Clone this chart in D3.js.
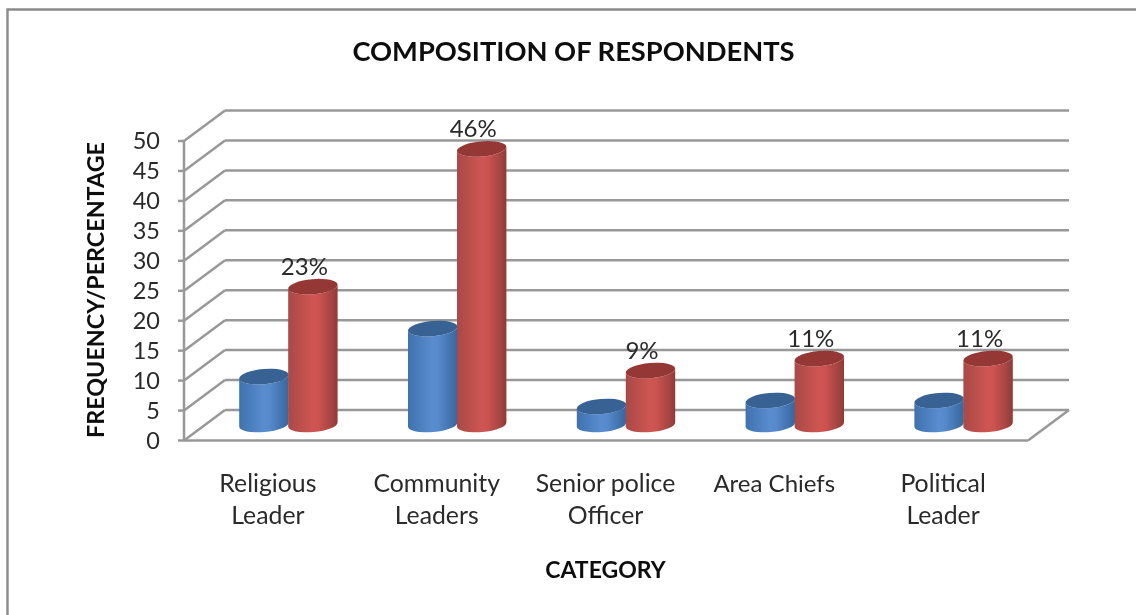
<!DOCTYPE html>
<html><head><meta charset="utf-8">
<script src="https://d3js.org/d3.v7.min.js"></script>
<style>html,body{margin:0;padding:0;background:#fff}svg{display:block}</style>
</head><body><svg id="c" width="1136" height="615"></svg>
<script>
const categories = [["Religious","Leader"],["Community","Leaders"],["Senior police","Officer"],["Area Chiefs"],["Political","Leader"]];
const frequency = [8,16,3,4,4];
const percentage = [23,46,9,11,11];
const percentLabels = ["23%","46%","9%","11%","11%"];
const yTicks = [0,5,10,15,20,25,30,35,40,45,50];
const titleText = "COMPOSITION OF RESPONDENTS";
const xTitle = "CATEGORY";
const yTitle = "FREQUENCY/PERCENTAGE";

const font = "Lato, sans-serif";
const svg = d3.select("#c");
const defs = svg.append("defs");
function grad(id, stops){
  const g = defs.append("linearGradient").attr("id",id);
  stops.forEach(s=>g.append("stop").attr("offset",s[0]).attr("stop-color",s[1]));
}
grad("gb",[[0,"#3f71ad"],[.5,"#5a8dd0"],[.62,"#5789cb"],[.9,"#3f6fa9"],[1,"#39669c"]]);
grad("gr",[[0,"#a84a47"],[.5,"#cf5552"],[.62,"#cb5350"],[.9,"#a04341"],[1,"#8f3a37"]]);
defs.append("filter").attr("id","soft").append("feGaussianBlur").attr("stdDeviation",0.7);
defs.append("filter").attr("id","softText").attr("x","-5%").attr("y","-5%").attr("width","110%").attr("height","110%").attr("filterUnits","objectBoundingBox").append("feGaussianBlur").attr("stdDeviation",0.4);

svg.append("path").attr("d","M7.5 615V9.5H1136").attr("fill","none").attr("stroke","#8a8a8a").attr("stroke-width",2.4);

const dx = 41, dy = -30.5;
const yFront = d3.scaleLinear().domain([0,50]).range([440.5,141]);
const xFront = d3.scaleBand().domain(d3.range(categories.length)).range([184,1028]);
const xBar = d3.scaleBand().domain(d3.range(categories.length)).range([204,1048]);
const side = d3.scaleBand().domain([0,1]).range([-49,49]);
const yBar = d3.scaleLinear().domain([0,50]).range([424.5,125]);

const marks = svg.append("g").attr("filter","url(#soft)");
const gridC = "#989898";
const grid = marks.append("g").attr("stroke",gridC).attr("stroke-width",2.5).attr("fill","none");
yTicks.forEach(t=>{
  const y = yFront(t);
  grid.append("line").attr("x1",184).attr("x2",184+dx).attr("y1",y).attr("y2",y+dy);
  grid.append("line").attr("x1",184+dx).attr("x2",1069).attr("y1",y+dy).attr("y2",y+dy);
  grid.append("line").attr("x1",178).attr("x2",184).attr("y1",y).attr("y2",y);
});
grid.append("line").attr("x1",184).attr("x2",184).attr("y1",yFront(50)).attr("y2",yFront(0));
grid.append("line").attr("x1",184).attr("x2",1028).attr("y1",yFront(0)).attr("y2",yFront(0));
grid.append("line").attr("x1",1028).attr("x2",1069).attr("y1",yFront(0)).attr("y2",yFront(0)+dy);

const rx = 24.8, ry = 7.6, rot = -5, th = rot*Math.PI/180;
const ox = rx*Math.cos(th), oy = rx*Math.sin(th);
function drawBar(g, cx, yTop, yBase, fill, cap){
  const p = `M${cx-ox} ${yBase-oy}A${rx} ${ry} ${rot} 0 0 ${cx+ox} ${yBase+oy}L${cx+ox} ${yTop+oy}A${rx} ${ry} ${rot} 0 1 ${cx-ox} ${yTop-oy}Z`;
  g.append("path").attr("d",p).attr("fill",`url(#${fill})`);
  g.append("ellipse").attr("cx",cx).attr("cy",yTop).attr("rx",rx).attr("ry",ry)
    .attr("transform",`rotate(${rot} ${cx} ${yTop})`).attr("fill",cap);
}
const bars = marks.append("g");
categories.forEach((c,i)=>{
  const center = xBar(i)+xBar.bandwidth()/2;
  const w = side.bandwidth();
  drawBar(bars, center+side(0)+w/2, yBar(frequency[i]), yBar(0), "gb", "#376293");
  drawBar(bars, center+side(1)+w/2, yBar(percentage[i]), yBar(0), "gr", "#953936");
});

const txt = svg.append("g").attr("font-family",font).attr("fill","#2a2a2a").attr("filter","url(#softText)");
txt.append("text").attr("x",573.5).attr("y",61).attr("text-anchor","middle").attr("font-size",27.3).attr("font-weight",700).attr("fill","#111").text(titleText);
txt.append("text").attr("x",605.5).attr("y",578).attr("text-anchor","middle").attr("font-size",23).attr("font-weight",700).attr("fill","#111").text(xTitle);
txt.append("text").attr("transform","translate(104,290) rotate(-90)").attr("text-anchor","middle").attr("font-size",23.3).attr("font-weight",700).attr("fill","#111").text(yTitle);
yTicks.forEach(t=>txt.append("text").attr("x",160).attr("y",yFront(t)+8).attr("text-anchor","end").attr("font-size",23.5).text(t));
categories.forEach((c,i)=>{
  const x = xFront(i)+xFront.bandwidth()/2;
  c.forEach((l,k)=>txt.append("text").attr("x",x-0.5).attr("y",492+k*32).attr("text-anchor","middle").attr("font-size",c.length==1?24:24.8).text(l));
  const cxr = xBar(i)+xBar.bandwidth()/2+side(1)+side.bandwidth()/2;
  txt.append("text").attr("x",cxr-8.5).attr("y",yBar(percentage[i])-12).attr("text-anchor","middle").attr("font-size",24).text(percentLabels[i]);
});
</script></body></html>
